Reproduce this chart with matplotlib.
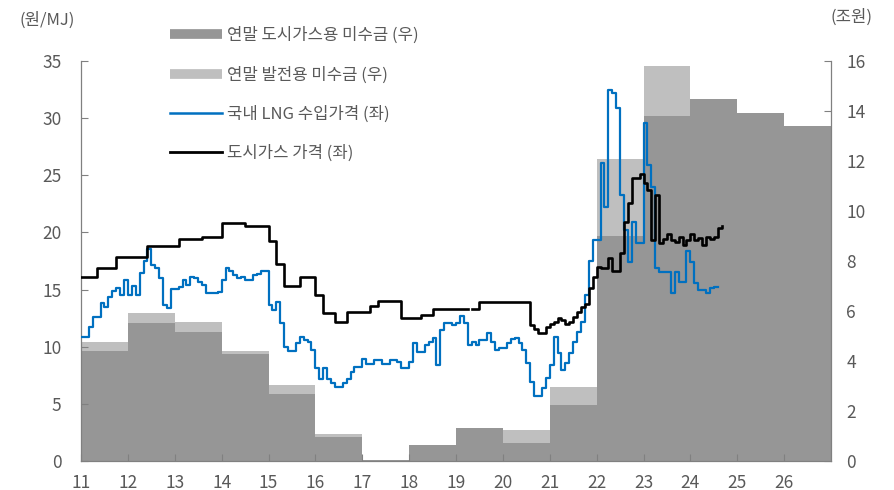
import numpy as np
import matplotlib
matplotlib.use("Agg")
import matplotlib.pyplot as plt
from matplotlib.lines import Line2D

plt.rcParams['font.family'] = ['Noto Sans CJK KR', 'DejaVu Sans']

# ---- data ----
years = [2011, 2012, 2013, 2014, 2015, 2016, 2017, 2018, 2019, 2020, 2021, 2022, 2023, 2024, 2025, 2026]
year_labels = ['11', '12', '13', '14', '15', '16', '17', '18', '19', '20', '21', '22', '23', '24', '25', '26']
# year-end receivables (trillion won)
city_gas_recv = [4.41, 5.53, 5.17, 4.29, 2.69, 0.97, 0.05, 0.64, 1.31, 0.71, 2.24, 9.00, 13.80, 14.48, 13.93, 13.40]
power_recv = [0.35, 0.39, 0.38, 0.11, 0.35, 0.11, 0.00, 0.00, 0.00, 0.53, 0.72, 3.07, 2.00, 0.00, 0.00, 0.00]

# monthly, starting Jan 2011 (won/MJ)
lng_2011 = [10.88, 10.88, 11.7, 12.57, 12.57, 13.85, 13.45, 14.32, 14.9, 15.11, 14.52, 15.84]
lng_2012 = [14.52, 15.31, 14.52, 16.42, 17.52, 18.52, 17.15, 16.86, 15.98, 13.65, 13.36, 15.05]
lng_2013 = [15.05, 15.25, 15.84, 15.4, 16.13, 15.98, 15.7, 15.4, 14.73, 14.73, 14.73, 14.8]
lng_2014 = [15.84, 16.86, 16.6, 16.3, 15.98, 16.1, 15.84, 15.84, 16.3, 16.4, 16.6, 16.6]
lng_2015 = [13.65, 13.21, 13.9, 12.1, 10.0, 9.65, 9.65, 10.3, 10.88, 10.6, 10.4, 9.68]
lng_2016 = [8.1, 7.15, 8.1, 7.2, 6.8, 6.45, 6.45, 6.8, 7.15, 7.81, 8.25, 8.25]
lng_2017 = [8.9, 8.49, 8.49, 8.84, 8.84, 8.49, 8.49, 8.84, 8.84, 8.7, 8.1, 8.1]
lng_2018 = [8.69, 10.3, 9.56, 9.56, 10.15, 10.44, 10.73, 8.4, 11.46, 12.04, 12.04, 11.9]
lng_2019 = [12.1, 12.69, 12.04, 10.15, 10.44, 10.15, 10.59, 10.59, 11.17, 10.44, 9.71, 9.86]
lng_2020 = [9.86, 10.3, 10.65, 10.73, 10.3, 9.71, 8.55, 6.94, 5.69, 5.69, 6.36, 7.23]
lng_2021 = [8.4, 10.88, 9.42, 7.96, 8.55, 9.42, 10.44, 11.31, 12.19, 14.52, 17.5, 19.37]
lng_2022 = [19.34, 26.04, 22.25, 32.5, 32.2, 30.85, 23.27, 20.2, 17.44, 20.94, 19.05, 19.05]
lng_2023 = [29.6, 25.9, 24.0, 16.86, 16.56, 16.56, 16.56, 14.67, 16.56, 15.69, 15.69, 18.4]
lng_2024 = [17.44, 15.55, 14.96, 14.96, 14.67, 15.1, 15.25, 15.25]

gas_2011 = [16.07, 16.07, 16.07, 16.07, 16.9, 16.9, 16.9, 16.9, 16.9, 17.87, 17.87, 17.87]
gas_2012 = [17.87, 17.87, 17.87, 17.87, 17.87, 18.8, 18.8, 18.8, 18.8, 18.8, 18.8, 18.8]
gas_2013 = [18.8, 19.45, 19.45, 19.45, 19.45, 19.45, 19.45, 19.57, 19.57, 19.57, 19.57, 19.57]
gas_2014 = [20.8, 20.8, 20.8, 20.8, 20.8, 20.8, 20.59, 20.59, 20.59, 20.59, 20.59, 20.59]
gas_2015 = [19.27, 19.27, 17.24, 17.24, 15.3, 15.3, 15.3, 15.3, 16.1, 16.1, 16.1, 16.1]
gas_2016 = [14.5, 14.5, 12.97, 12.97, 12.97, 12.19, 12.19, 12.19, 13.0, 13.0, 13.0, 13.0]
gas_2017 = [13.0, 13.0, 13.56, 13.56, 13.97, 13.97, 13.97, 13.97, 13.97, 13.97, 12.54, 12.54]
gas_2018 = [12.54, 12.54, 12.54, 12.75, 12.75, 12.75, 13.33, 13.33, 13.33, 13.33, 13.33, 13.33]
gas_2019 = [13.33, 13.33, 13.33, np.nan, 13.33, 13.33, 13.91, 13.91, 13.91, 13.91, 13.91, 13.91]
gas_2020 = [13.91, 13.91, 13.91, 13.91, 13.91, 13.91, 13.91, 11.9, 11.52, 11.17, 11.17, 11.75]
gas_2021 = [11.98, 12.19, 12.54, 12.34, 11.99, 12.19, 12.63, 13.06, 13.45, 13.74, 15.1, 16.13]
gas_2022 = [17.0, 16.85, 16.85, 17.73, 16.65, 16.65, 18.17, 20.94, 22.55, 24.73, 24.8, 25.08]
gas_2023 = [24.3, 23.7, 19.33, 23.27, 19.05, 19.4, 19.86, 19.34, 19.2, 19.62, 18.9, 19.34]
gas_2024 = [19.9, 19.34, 19.5, 18.9, 19.57, 19.4, 19.63, 20.36, 20.56]

lng = lng_2011 + lng_2012 + lng_2013 + lng_2014 + lng_2015 + lng_2016 + lng_2017 + \
    lng_2018 + lng_2019 + lng_2020 + lng_2021 + lng_2022 + lng_2023 + lng_2024
gas = gas_2011 + gas_2012 + gas_2013 + gas_2014 + gas_2015 + gas_2016 + gas_2017 + \
    gas_2018 + gas_2019 + gas_2020 + gas_2021 + gas_2022 + gas_2023 + gas_2024

lng_x = 2011 + np.arange(len(lng)) / 12.0
gas_x = 2011 + np.arange(len(gas)) / 12.0

# ---- style ----
DARK = '#969696'
LIGHT = '#bfbfbf'
BLUE = '#0070c0'
TXT = '#595959'
SPINE = '#808080'

fig = plt.figure(figsize=(8.94, 4.90), dpi=100)
ax = fig.add_axes([81/894, 1 - 461/490, 750/894, 400/490])
ax2 = ax.twinx()

# bars on right axis
ax2.bar(years, city_gas_recv, width=1.0, align='edge', color=DARK, linewidth=0, zorder=2)
ax2.bar(years, power_recv, width=1.0, align='edge', bottom=city_gas_recv, color=LIGHT, linewidth=0, zorder=1)

# lines on left axis
ax.plot(lng_x, lng, drawstyle='steps-post', color=BLUE, lw=1.6, zorder=3)
ax.plot(gas_x, gas, drawstyle='steps-post', color='black', lw=1.9, zorder=4)

ax.set_zorder(ax2.get_zorder() + 1)
ax.patch.set_visible(False)

ax.set_xlim(2011, 2027)
ax.set_ylim(0, 35)
ax2.set_ylim(0, 16)
ax.set_yticks(range(0, 36, 5))
ax2.set_yticks(range(0, 17, 2))
ax.set_xticks(years)
ax.set_xticklabels(year_labels)

for a in (ax, ax2):
    for s in a.spines.values():
        s.set_color(SPINE)
        s.set_linewidth(0.9)
    a.spines['top'].set_visible(False)
ax.spines['right'].set_visible(False)
ax2.spines['left'].set_visible(False)
ax2.spines['bottom'].set_visible(False)

ax.tick_params(axis='y', direction='in', length=5, color=SPINE, labelcolor=TXT, labelsize=12.5, pad=14)
ax.tick_params(axis='x', direction='in', length=5, color=SPINE, labelcolor=TXT, labelsize=12.5, pad=9)
ax2.tick_params(axis='y', direction='in', length=5, color=SPINE, labelcolor=TXT, labelsize=12.5, pad=11)
for lab in ax.get_xticklabels() + ax.get_yticklabels() + ax2.get_yticklabels():
    lab.set_fontweight('light')

fig.text(47/894, 1 - 20/490, '(원/MJ)', ha='center', va='center', fontsize=12, color=TXT, fontweight='light')
fig.text(851/894, 1 - 17/490, '(조원)', ha='center', va='center', fontsize=12, color=TXT, fontweight='light')

handles = [
    Line2D([], [], color=DARK, lw=7, solid_capstyle='butt'),
    Line2D([], [], color=LIGHT, lw=7, solid_capstyle='butt'),
    Line2D([], [], color=BLUE, lw=1.8),
    Line2D([], [], color='black', lw=2.0),
]
labels = ['연말 도시가스용 미수금 (우)', '연말 발전용 미수금 (우)', '국내 LNG 수입가격 (좌)', '도시가스 가격 (좌)']
leg = fig.legend(handles, labels, loc='upper left', bbox_to_anchor=(170/894, 1 - 27/490),
                 frameon=False, fontsize=12, handlelength=3.1, handletextpad=0.3,
                 labelspacing=1.33, borderpad=0, borderaxespad=0, labelcolor=TXT)
for t in leg.get_texts():
    t.set_fontweight('light')

fig.savefig('out.png', dpi=100)
